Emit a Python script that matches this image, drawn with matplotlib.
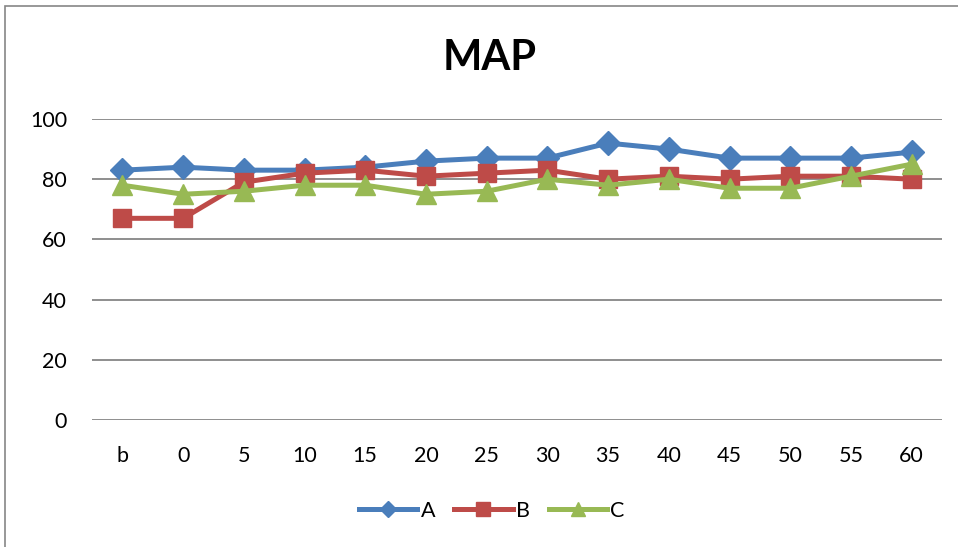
import matplotlib
matplotlib.use("Agg")
import matplotlib.pyplot as plt
from matplotlib.patches import Rectangle

plt.rcParams['font.family'] = ['Lato', 'DejaVu Sans']

categories = ["b", "0", "5", "10", "15", "20", "25", "30", "35", "40", "45", "50", "55", "60"]
series_a = [83, 84, 83, 83, 84, 86, 87, 87, 92, 90, 87, 87, 87, 89]
series_b = [67, 67, 79, 82, 83, 81, 82, 83, 80, 81, 80, 81, 81, 80]
series_c = [78, 75, 76, 78, 78, 75, 76, 80, 78, 80, 77, 77, 81, 85]
yticks = [0, 20, 40, 60, 80, 100]
title = "MAP"

fig = plt.figure(figsize=(9.58, 5.47), dpi=100)
fig.patches.append(Rectangle((5 / 958, -0.1), 1.2, 1 - 6 / 547 + 0.1,
                             transform=fig.transFigure, fill=False,
                             edgecolor="#868686", linewidth=1.2))

ax = fig.add_axes([92 / 958, 1 - 420 / 547, 850 / 958, 301 / 547])
x = list(range(len(categories)))

ax.plot(x, series_a, color="#4A7EBB", linewidth=3.6, marker="D", markersize=12,
        label="A", clip_on=False, zorder=3)
ax.plot(x, series_b, color="#BE4B48", linewidth=3.6, marker="s", markersize=13.5,
        label="B", clip_on=False, zorder=3)
ax.plot(x, series_c, color="#98B954", linewidth=3.6, marker="^", markersize=15,
        label="C", clip_on=False, zorder=3)

ax.set_xlim(-0.5, len(categories) - 0.5)
ax.set_ylim(0, 100)
ax.set_yticks(yticks)
ax.set_xticks(x)
ax.set_xticklabels(categories)
ax.grid(axis="y", color="#868686", linewidth=1.3)
ax.set_axisbelow(True)
for s in ax.spines.values():
    s.set_visible(False)
ax.tick_params(axis="both", length=0, labelsize=15.5)
ax.tick_params(axis="y", pad=18)
ax.tick_params(axis="x", pad=19)

fig.text(490 / 958, 1 - 58 / 547, title, ha="center", va="center",
         fontsize=30, fontweight="bold")

leg = fig.legend(loc="center", bbox_to_anchor=(492 / 958, 1 - 511 / 547), ncol=3,
                 frameon=False, fontsize=15.5, handlelength=2.7, columnspacing=0.9,
                 handletextpad=0.15, markerscale=0.7)

fig.savefig("out.png", dpi=100)
